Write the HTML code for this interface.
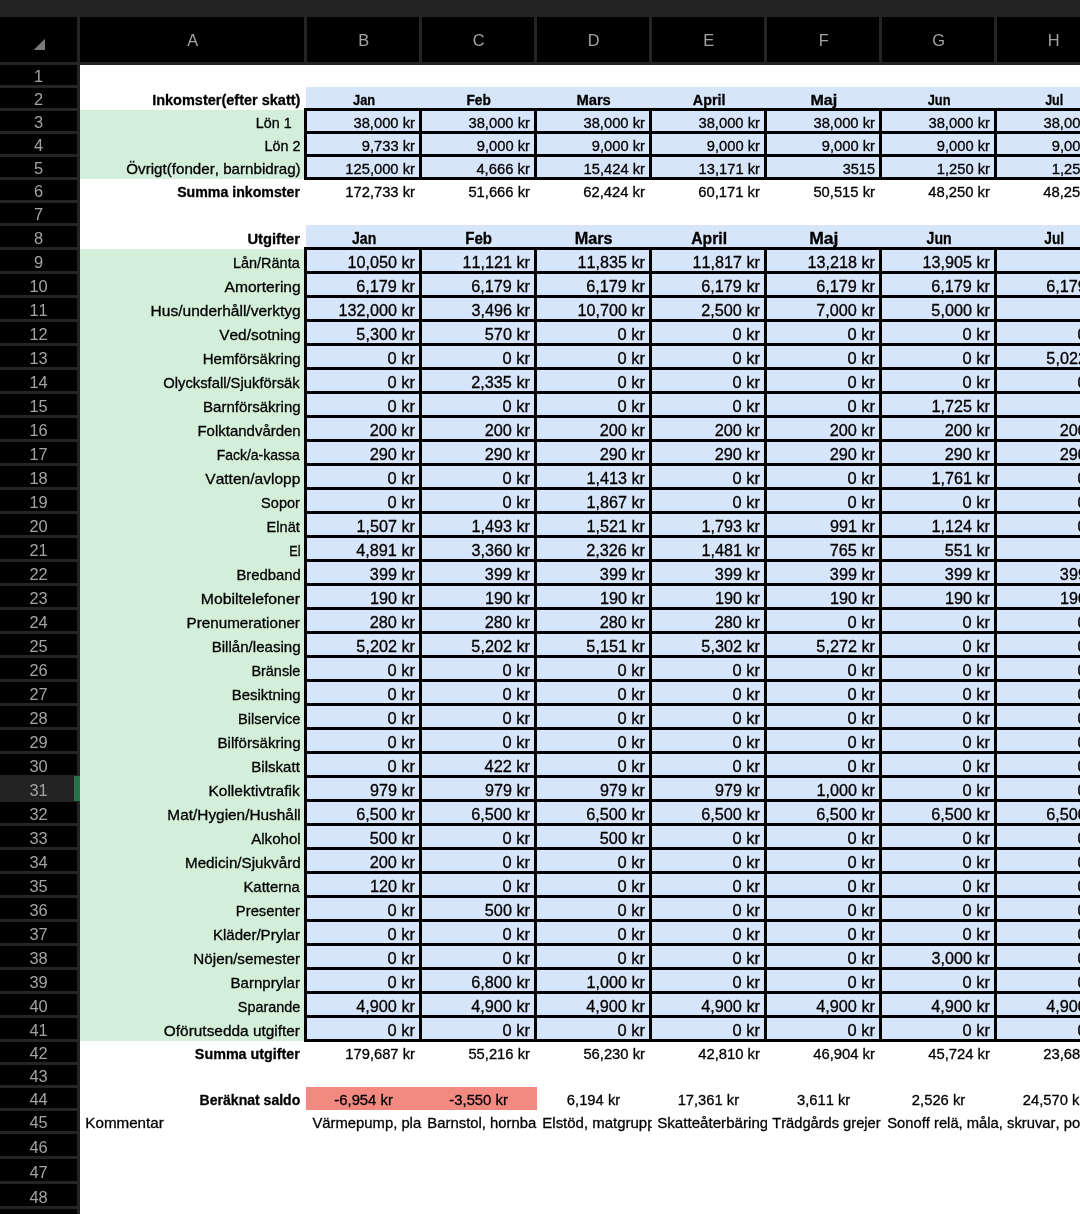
<!DOCTYPE html>
<html><head><meta charset="utf-8"><title>Budget</title>
<style>
html,body{margin:0;padding:0;width:1080px;height:1214px;overflow:hidden;background:#fff}
svg{display:block;will-change:transform}
text{font-family:"Liberation Sans",Arial,sans-serif;font-kerning:none;white-space:pre;stroke:#000;stroke-width:0.3px;paint-order:stroke}
text.h{stroke:none}
text.h{font-family:"Liberation Sans",Arial,sans-serif}
</style></head><body>
<svg width="1080" height="1214" viewBox="0 0 1080 1214"><defs><clipPath id="c1"><rect x="305.40" y="1109.40" width="116.50" height="23.00"/></clipPath><clipPath id="c2"><rect x="420.40" y="1109.40" width="116.50" height="23.00"/></clipPath><clipPath id="c3"><rect x="535.40" y="1109.40" width="116.50" height="23.00"/></clipPath><clipPath id="c4"><rect x="650.40" y="1109.40" width="116.50" height="23.00"/></clipPath><clipPath id="c5"><rect x="765.40" y="1109.40" width="116.50" height="23.00"/></clipPath><clipPath id="c6"><rect x="880.40" y="1109.40" width="199.60" height="23.00"/></clipPath></defs><rect x="0.00" y="0.00" width="1080.00" height="1214.00" fill="#ffffff"/>
<rect x="80.00" y="110.00" width="224.00" height="69.00" fill="#d3efd9"/>
<rect x="80.00" y="249.00" width="224.00" height="792.00" fill="#d3efd9"/>
<rect x="306.00" y="87.00" width="774.00" height="23.00" fill="#d7e5fa"/>
<rect x="306.00" y="225.00" width="774.00" height="24.00" fill="#d7e5fa"/>
<rect x="305.00" y="110.00" width="775.00" height="69.00" fill="#d7e5fa"/>
<rect x="305.00" y="249.00" width="775.00" height="792.00" fill="#d7e5fa"/>
<rect x="306.00" y="1087.00" width="231.00" height="23.00" fill="#f28a82"/>
<rect x="304.00" y="108.00" width="1080.00" height="3.00" fill="#000000"/>
<rect x="304.00" y="131.00" width="1080.00" height="3.00" fill="#000000"/>
<rect x="304.00" y="154.00" width="1080.00" height="3.00" fill="#000000"/>
<rect x="304.00" y="177.00" width="1080.00" height="3.00" fill="#000000"/>
<rect x="304.00" y="108.00" width="3.00" height="72.00" fill="#000000"/>
<rect x="419.00" y="108.00" width="3.00" height="72.00" fill="#000000"/>
<rect x="534.00" y="108.00" width="3.00" height="72.00" fill="#000000"/>
<rect x="649.00" y="108.00" width="3.00" height="72.00" fill="#000000"/>
<rect x="764.00" y="108.00" width="3.00" height="72.00" fill="#000000"/>
<rect x="879.00" y="108.00" width="3.00" height="72.00" fill="#000000"/>
<rect x="994.00" y="108.00" width="3.00" height="72.00" fill="#000000"/>
<rect x="1109.00" y="108.00" width="3.00" height="72.00" fill="#000000"/>
<rect x="304.00" y="247.00" width="1080.00" height="3.00" fill="#000000"/>
<rect x="304.00" y="271.00" width="1080.00" height="3.00" fill="#000000"/>
<rect x="304.00" y="295.00" width="1080.00" height="3.00" fill="#000000"/>
<rect x="304.00" y="319.00" width="1080.00" height="3.00" fill="#000000"/>
<rect x="304.00" y="343.00" width="1080.00" height="3.00" fill="#000000"/>
<rect x="304.00" y="367.00" width="1080.00" height="3.00" fill="#000000"/>
<rect x="304.00" y="391.00" width="1080.00" height="3.00" fill="#000000"/>
<rect x="304.00" y="415.00" width="1080.00" height="3.00" fill="#000000"/>
<rect x="304.00" y="439.00" width="1080.00" height="3.00" fill="#000000"/>
<rect x="304.00" y="463.00" width="1080.00" height="3.00" fill="#000000"/>
<rect x="304.00" y="487.00" width="1080.00" height="3.00" fill="#000000"/>
<rect x="304.00" y="511.00" width="1080.00" height="3.00" fill="#000000"/>
<rect x="304.00" y="535.00" width="1080.00" height="3.00" fill="#000000"/>
<rect x="304.00" y="559.00" width="1080.00" height="3.00" fill="#000000"/>
<rect x="304.00" y="583.00" width="1080.00" height="3.00" fill="#000000"/>
<rect x="304.00" y="607.00" width="1080.00" height="3.00" fill="#000000"/>
<rect x="304.00" y="631.00" width="1080.00" height="3.00" fill="#000000"/>
<rect x="304.00" y="655.00" width="1080.00" height="3.00" fill="#000000"/>
<rect x="304.00" y="679.00" width="1080.00" height="3.00" fill="#000000"/>
<rect x="304.00" y="703.00" width="1080.00" height="3.00" fill="#000000"/>
<rect x="304.00" y="727.00" width="1080.00" height="3.00" fill="#000000"/>
<rect x="304.00" y="751.00" width="1080.00" height="3.00" fill="#000000"/>
<rect x="304.00" y="775.00" width="1080.00" height="3.00" fill="#000000"/>
<rect x="304.00" y="799.00" width="1080.00" height="3.00" fill="#000000"/>
<rect x="304.00" y="823.00" width="1080.00" height="3.00" fill="#000000"/>
<rect x="304.00" y="847.00" width="1080.00" height="3.00" fill="#000000"/>
<rect x="304.00" y="871.00" width="1080.00" height="3.00" fill="#000000"/>
<rect x="304.00" y="895.00" width="1080.00" height="3.00" fill="#000000"/>
<rect x="304.00" y="919.00" width="1080.00" height="3.00" fill="#000000"/>
<rect x="304.00" y="943.00" width="1080.00" height="3.00" fill="#000000"/>
<rect x="304.00" y="967.00" width="1080.00" height="3.00" fill="#000000"/>
<rect x="304.00" y="991.00" width="1080.00" height="3.00" fill="#000000"/>
<rect x="304.00" y="1015.00" width="1080.00" height="3.00" fill="#000000"/>
<rect x="304.00" y="1039.00" width="1080.00" height="3.00" fill="#000000"/>
<rect x="304.00" y="247.00" width="3.00" height="795.00" fill="#000000"/>
<rect x="419.00" y="247.00" width="3.00" height="795.00" fill="#000000"/>
<rect x="534.00" y="247.00" width="3.00" height="795.00" fill="#000000"/>
<rect x="649.00" y="247.00" width="3.00" height="795.00" fill="#000000"/>
<rect x="764.00" y="247.00" width="3.00" height="795.00" fill="#000000"/>
<rect x="879.00" y="247.00" width="3.00" height="795.00" fill="#000000"/>
<rect x="994.00" y="247.00" width="3.00" height="795.00" fill="#000000"/>
<rect x="1109.00" y="247.00" width="3.00" height="795.00" fill="#000000"/>
<rect x="0.00" y="0.00" width="1080.00" height="17.00" fill="#232323"/>
<rect x="0.00" y="17.00" width="1080.00" height="45.00" fill="#000000"/>
<rect x="0.00" y="62.00" width="1080.00" height="3.00" fill="#242424"/>
<rect x="0.00" y="65.00" width="77.00" height="1149.00" fill="#000000"/>
<rect x="77.00" y="17.00" width="3.00" height="1197.00" fill="#242424"/>
<rect x="304.00" y="17.00" width="3.00" height="45.00" fill="#242424"/>
<rect x="419.00" y="17.00" width="3.00" height="45.00" fill="#242424"/>
<rect x="534.00" y="17.00" width="3.00" height="45.00" fill="#242424"/>
<rect x="649.00" y="17.00" width="3.00" height="45.00" fill="#242424"/>
<rect x="764.00" y="17.00" width="3.00" height="45.00" fill="#242424"/>
<rect x="879.00" y="17.00" width="3.00" height="45.00" fill="#242424"/>
<rect x="994.00" y="17.00" width="3.00" height="45.00" fill="#242424"/>
<rect x="1109.00" y="17.00" width="3.00" height="45.00" fill="#242424"/>
<rect x="0.00" y="85.00" width="77.00" height="3.00" fill="#242424"/>
<rect x="0.00" y="108.00" width="77.00" height="3.00" fill="#242424"/>
<rect x="0.00" y="131.00" width="77.00" height="3.00" fill="#242424"/>
<rect x="0.00" y="154.00" width="77.00" height="3.00" fill="#242424"/>
<rect x="0.00" y="177.00" width="77.00" height="3.00" fill="#242424"/>
<rect x="0.00" y="200.00" width="77.00" height="3.00" fill="#242424"/>
<rect x="0.00" y="223.00" width="77.00" height="3.00" fill="#242424"/>
<rect x="0.00" y="247.00" width="77.00" height="3.00" fill="#242424"/>
<rect x="0.00" y="271.00" width="77.00" height="3.00" fill="#242424"/>
<rect x="0.00" y="295.00" width="77.00" height="3.00" fill="#242424"/>
<rect x="0.00" y="319.00" width="77.00" height="3.00" fill="#242424"/>
<rect x="0.00" y="343.00" width="77.00" height="3.00" fill="#242424"/>
<rect x="0.00" y="367.00" width="77.00" height="3.00" fill="#242424"/>
<rect x="0.00" y="391.00" width="77.00" height="3.00" fill="#242424"/>
<rect x="0.00" y="415.00" width="77.00" height="3.00" fill="#242424"/>
<rect x="0.00" y="439.00" width="77.00" height="3.00" fill="#242424"/>
<rect x="0.00" y="463.00" width="77.00" height="3.00" fill="#242424"/>
<rect x="0.00" y="487.00" width="77.00" height="3.00" fill="#242424"/>
<rect x="0.00" y="511.00" width="77.00" height="3.00" fill="#242424"/>
<rect x="0.00" y="535.00" width="77.00" height="3.00" fill="#242424"/>
<rect x="0.00" y="559.00" width="77.00" height="3.00" fill="#242424"/>
<rect x="0.00" y="583.00" width="77.00" height="3.00" fill="#242424"/>
<rect x="0.00" y="607.00" width="77.00" height="3.00" fill="#242424"/>
<rect x="0.00" y="631.00" width="77.00" height="3.00" fill="#242424"/>
<rect x="0.00" y="655.00" width="77.00" height="3.00" fill="#242424"/>
<rect x="0.00" y="679.00" width="77.00" height="3.00" fill="#242424"/>
<rect x="0.00" y="703.00" width="77.00" height="3.00" fill="#242424"/>
<rect x="0.00" y="727.00" width="77.00" height="3.00" fill="#242424"/>
<rect x="0.00" y="751.00" width="77.00" height="3.00" fill="#242424"/>
<rect x="0.00" y="775.00" width="77.00" height="3.00" fill="#242424"/>
<rect x="0.00" y="799.00" width="77.00" height="3.00" fill="#242424"/>
<rect x="0.00" y="823.00" width="77.00" height="3.00" fill="#242424"/>
<rect x="0.00" y="847.00" width="77.00" height="3.00" fill="#242424"/>
<rect x="0.00" y="871.00" width="77.00" height="3.00" fill="#242424"/>
<rect x="0.00" y="895.00" width="77.00" height="3.00" fill="#242424"/>
<rect x="0.00" y="919.00" width="77.00" height="3.00" fill="#242424"/>
<rect x="0.00" y="943.00" width="77.00" height="3.00" fill="#242424"/>
<rect x="0.00" y="967.00" width="77.00" height="3.00" fill="#242424"/>
<rect x="0.00" y="991.00" width="77.00" height="3.00" fill="#242424"/>
<rect x="0.00" y="1015.00" width="77.00" height="3.00" fill="#242424"/>
<rect x="0.00" y="1039.00" width="77.00" height="3.00" fill="#242424"/>
<rect x="0.00" y="1062.00" width="77.00" height="3.00" fill="#242424"/>
<rect x="0.00" y="1085.00" width="77.00" height="3.00" fill="#242424"/>
<rect x="0.00" y="1108.00" width="77.00" height="3.00" fill="#242424"/>
<rect x="0.00" y="1131.00" width="77.00" height="3.00" fill="#242424"/>
<rect x="0.00" y="1156.00" width="77.00" height="3.00" fill="#242424"/>
<rect x="0.00" y="1181.00" width="77.00" height="3.00" fill="#242424"/>
<rect x="0.00" y="1206.00" width="77.00" height="3.00" fill="#242424"/>
<rect x="0.00" y="1231.00" width="77.00" height="3.00" fill="#242424"/>
<rect x="0.00" y="775.00" width="77.00" height="27.00" fill="#232323"/>
<rect x="74.00" y="776.00" width="6.00" height="25.00" fill="#25744a"/>
<polygon points="33.6,49.9 45,38.75 45,49.9" fill="#7a7a7a"/>
<text x="192.70" y="45.80" font-size="16.4" fill="#a3a3a3" text-anchor="middle" class="h">A</text>
<text x="363.70" y="45.80" font-size="16.4" fill="#a3a3a3" text-anchor="middle" class="h">B</text>
<text x="478.70" y="45.80" font-size="16.4" fill="#a3a3a3" text-anchor="middle" class="h">C</text>
<text x="593.70" y="45.80" font-size="16.4" fill="#a3a3a3" text-anchor="middle" class="h">D</text>
<text x="708.70" y="45.80" font-size="16.4" fill="#a3a3a3" text-anchor="middle" class="h">E</text>
<text x="823.70" y="45.80" font-size="16.4" fill="#a3a3a3" text-anchor="middle" class="h">F</text>
<text x="938.70" y="45.80" font-size="16.4" fill="#a3a3a3" text-anchor="middle" class="h">G</text>
<text x="1053.70" y="45.80" font-size="16.4" fill="#a3a3a3" text-anchor="middle" class="h">H</text>
<text x="38.60" y="81.73" font-size="16.4" fill="#a3a3a3" text-anchor="middle" class="h">1</text>
<text x="38.60" y="104.76" font-size="16.4" fill="#a3a3a3" text-anchor="middle" class="h">2</text>
<text x="38.60" y="127.79" font-size="16.4" fill="#a3a3a3" text-anchor="middle" class="h">3</text>
<text x="38.60" y="150.82" font-size="16.4" fill="#a3a3a3" text-anchor="middle" class="h">4</text>
<text x="38.60" y="173.85" font-size="16.4" fill="#a3a3a3" text-anchor="middle" class="h">5</text>
<text x="38.60" y="196.88" font-size="16.4" fill="#a3a3a3" text-anchor="middle" class="h">6</text>
<text x="38.60" y="219.91" font-size="16.4" fill="#a3a3a3" text-anchor="middle" class="h">7</text>
<text x="38.60" y="243.90" font-size="16.4" fill="#a3a3a3" text-anchor="middle" class="h">8</text>
<text x="38.60" y="267.90" font-size="16.4" fill="#a3a3a3" text-anchor="middle" class="h">9</text>
<text x="38.60" y="291.90" font-size="16.4" fill="#a3a3a3" text-anchor="middle" class="h">10</text>
<text x="38.60" y="315.90" font-size="16.4" fill="#a3a3a3" text-anchor="middle" class="h">11</text>
<text x="38.60" y="339.90" font-size="16.4" fill="#a3a3a3" text-anchor="middle" class="h">12</text>
<text x="38.60" y="363.90" font-size="16.4" fill="#a3a3a3" text-anchor="middle" class="h">13</text>
<text x="38.60" y="387.90" font-size="16.4" fill="#a3a3a3" text-anchor="middle" class="h">14</text>
<text x="38.60" y="411.90" font-size="16.4" fill="#a3a3a3" text-anchor="middle" class="h">15</text>
<text x="38.60" y="435.90" font-size="16.4" fill="#a3a3a3" text-anchor="middle" class="h">16</text>
<text x="38.60" y="459.90" font-size="16.4" fill="#a3a3a3" text-anchor="middle" class="h">17</text>
<text x="38.60" y="483.90" font-size="16.4" fill="#a3a3a3" text-anchor="middle" class="h">18</text>
<text x="38.60" y="507.90" font-size="16.4" fill="#a3a3a3" text-anchor="middle" class="h">19</text>
<text x="38.60" y="531.90" font-size="16.4" fill="#a3a3a3" text-anchor="middle" class="h">20</text>
<text x="38.60" y="555.90" font-size="16.4" fill="#a3a3a3" text-anchor="middle" class="h">21</text>
<text x="38.60" y="579.90" font-size="16.4" fill="#a3a3a3" text-anchor="middle" class="h">22</text>
<text x="38.60" y="603.90" font-size="16.4" fill="#a3a3a3" text-anchor="middle" class="h">23</text>
<text x="38.60" y="627.90" font-size="16.4" fill="#a3a3a3" text-anchor="middle" class="h">24</text>
<text x="38.60" y="651.90" font-size="16.4" fill="#a3a3a3" text-anchor="middle" class="h">25</text>
<text x="38.60" y="675.90" font-size="16.4" fill="#a3a3a3" text-anchor="middle" class="h">26</text>
<text x="38.60" y="699.90" font-size="16.4" fill="#a3a3a3" text-anchor="middle" class="h">27</text>
<text x="38.60" y="723.90" font-size="16.4" fill="#a3a3a3" text-anchor="middle" class="h">28</text>
<text x="38.60" y="747.90" font-size="16.4" fill="#a3a3a3" text-anchor="middle" class="h">29</text>
<text x="38.60" y="771.90" font-size="16.4" fill="#a3a3a3" text-anchor="middle" class="h">30</text>
<text x="38.60" y="795.90" font-size="16.4" fill="#a3a3a3" text-anchor="middle" class="h">31</text>
<text x="38.60" y="819.90" font-size="16.4" fill="#a3a3a3" text-anchor="middle" class="h">32</text>
<text x="38.60" y="843.90" font-size="16.4" fill="#a3a3a3" text-anchor="middle" class="h">33</text>
<text x="38.60" y="867.90" font-size="16.4" fill="#a3a3a3" text-anchor="middle" class="h">34</text>
<text x="38.60" y="891.90" font-size="16.4" fill="#a3a3a3" text-anchor="middle" class="h">35</text>
<text x="38.60" y="915.90" font-size="16.4" fill="#a3a3a3" text-anchor="middle" class="h">36</text>
<text x="38.60" y="939.90" font-size="16.4" fill="#a3a3a3" text-anchor="middle" class="h">37</text>
<text x="38.60" y="963.90" font-size="16.4" fill="#a3a3a3" text-anchor="middle" class="h">38</text>
<text x="38.60" y="987.90" font-size="16.4" fill="#a3a3a3" text-anchor="middle" class="h">39</text>
<text x="38.60" y="1011.90" font-size="16.4" fill="#a3a3a3" text-anchor="middle" class="h">40</text>
<text x="38.60" y="1035.90" font-size="16.4" fill="#a3a3a3" text-anchor="middle" class="h">41</text>
<text x="38.60" y="1058.90" font-size="16.4" fill="#a3a3a3" text-anchor="middle" class="h">42</text>
<text x="38.60" y="1081.90" font-size="16.4" fill="#a3a3a3" text-anchor="middle" class="h">43</text>
<text x="38.60" y="1104.90" font-size="16.4" fill="#a3a3a3" text-anchor="middle" class="h">44</text>
<text x="38.60" y="1127.90" font-size="16.4" fill="#a3a3a3" text-anchor="middle" class="h">45</text>
<text x="38.60" y="1152.90" font-size="16.4" fill="#a3a3a3" text-anchor="middle" class="h">46</text>
<text x="38.60" y="1177.90" font-size="16.4" fill="#a3a3a3" text-anchor="middle" class="h">47</text>
<text x="38.60" y="1202.90" font-size="16.4" fill="#a3a3a3" text-anchor="middle" class="h">48</text>
<text x="38.60" y="1227.90" font-size="16.4" fill="#a3a3a3" text-anchor="middle" class="h">49</text>
<text x="152.13" y="104.76" font-size="15.11" font-weight="bold" fill="#000000" textLength="148.29" lengthAdjust="spacingAndGlyphs">Inkomster(efter skatt)</text>
<text x="353.06" y="104.76" font-size="15.11" font-weight="bold" fill="#000000" textLength="22.09" lengthAdjust="spacingAndGlyphs">Jan</text>
<text x="466.42" y="104.76" font-size="15.11" font-weight="bold" fill="#000000" textLength="24.40" lengthAdjust="spacingAndGlyphs">Feb</text>
<text x="576.38" y="104.76" font-size="15.11" font-weight="bold" fill="#000000" textLength="34.46" lengthAdjust="spacingAndGlyphs">Mars</text>
<text x="692.84" y="104.76" font-size="15.11" font-weight="bold" fill="#000000" textLength="32.58" lengthAdjust="spacingAndGlyphs">April</text>
<text x="810.52" y="104.76" font-size="15.11" font-weight="bold" fill="#000000" textLength="26.61" lengthAdjust="spacingAndGlyphs">Maj</text>
<text x="927.71" y="104.76" font-size="15.11" font-weight="bold" fill="#000000" textLength="22.78" lengthAdjust="spacingAndGlyphs">Jun</text>
<text x="1045.14" y="104.76" font-size="15.11" font-weight="bold" fill="#000000" textLength="18.02" lengthAdjust="spacingAndGlyphs">Jul</text>
<text x="255.81" y="127.79" font-size="15.11" fill="#000000" textLength="35.79" lengthAdjust="spacingAndGlyphs">Lön 1</text>
<text x="353.44" y="127.79" font-size="15.11" fill="#000000" textLength="61.51" lengthAdjust="spacingAndGlyphs">38,000 kr</text>
<text x="468.44" y="127.79" font-size="15.11" fill="#000000" textLength="61.51" lengthAdjust="spacingAndGlyphs">38,000 kr</text>
<text x="583.44" y="127.79" font-size="15.11" fill="#000000" textLength="61.51" lengthAdjust="spacingAndGlyphs">38,000 kr</text>
<text x="698.44" y="127.79" font-size="15.11" fill="#000000" textLength="61.51" lengthAdjust="spacingAndGlyphs">38,000 kr</text>
<text x="813.44" y="127.79" font-size="15.11" fill="#000000" textLength="61.51" lengthAdjust="spacingAndGlyphs">38,000 kr</text>
<text x="928.44" y="127.79" font-size="15.11" fill="#000000" textLength="61.51" lengthAdjust="spacingAndGlyphs">38,000 kr</text>
<text x="1043.44" y="127.79" font-size="15.11" fill="#000000" textLength="61.51" lengthAdjust="spacingAndGlyphs">38,000 kr</text>
<text x="264.57" y="150.82" font-size="15.11" fill="#000000" textLength="35.85" lengthAdjust="spacingAndGlyphs">Lön 2</text>
<text x="361.80" y="150.82" font-size="15.11" fill="#000000" textLength="53.14" lengthAdjust="spacingAndGlyphs">9,733 kr</text>
<text x="476.80" y="150.82" font-size="15.11" fill="#000000" textLength="53.14" lengthAdjust="spacingAndGlyphs">9,000 kr</text>
<text x="591.80" y="150.82" font-size="15.11" fill="#000000" textLength="53.14" lengthAdjust="spacingAndGlyphs">9,000 kr</text>
<text x="706.80" y="150.82" font-size="15.11" fill="#000000" textLength="53.14" lengthAdjust="spacingAndGlyphs">9,000 kr</text>
<text x="821.80" y="150.82" font-size="15.11" fill="#000000" textLength="53.14" lengthAdjust="spacingAndGlyphs">9,000 kr</text>
<text x="936.80" y="150.82" font-size="15.11" fill="#000000" textLength="53.14" lengthAdjust="spacingAndGlyphs">9,000 kr</text>
<text x="1051.80" y="150.82" font-size="15.11" fill="#000000" textLength="53.14" lengthAdjust="spacingAndGlyphs">9,000 kr</text>
<text x="126.33" y="173.85" font-size="15.11" fill="#000000" textLength="174.31" lengthAdjust="spacingAndGlyphs">Övrigt(fonder, barnbidrag)</text>
<text x="345.31" y="173.85" font-size="15.11" fill="#000000" textLength="69.63" lengthAdjust="spacingAndGlyphs">125,000 kr</text>
<text x="476.39" y="173.85" font-size="15.11" fill="#000000" textLength="53.55" lengthAdjust="spacingAndGlyphs">4,666 kr</text>
<text x="583.52" y="173.85" font-size="15.11" fill="#000000" textLength="61.42" lengthAdjust="spacingAndGlyphs">15,424 kr</text>
<text x="698.52" y="173.85" font-size="15.11" fill="#000000" textLength="61.42" lengthAdjust="spacingAndGlyphs">13,171 kr</text>
<text x="842.71" y="173.85" font-size="15.11" fill="#000000" textLength="32.30" lengthAdjust="spacingAndGlyphs">3515</text>
<text x="936.74" y="173.85" font-size="15.11" fill="#000000" textLength="53.21" lengthAdjust="spacingAndGlyphs">1,250 kr</text>
<text x="1051.74" y="173.85" font-size="15.11" fill="#000000" textLength="53.21" lengthAdjust="spacingAndGlyphs">1,250 kr</text>
<text x="177.14" y="196.88" font-size="15.11" font-weight="bold" fill="#000000" textLength="122.78" lengthAdjust="spacingAndGlyphs">Summa inkomster</text>
<text x="345.31" y="196.88" font-size="15.11" fill="#000000" textLength="69.63" lengthAdjust="spacingAndGlyphs">172,733 kr</text>
<text x="468.39" y="196.88" font-size="15.11" fill="#000000" textLength="61.55" lengthAdjust="spacingAndGlyphs">51,666 kr</text>
<text x="583.22" y="196.88" font-size="15.11" fill="#000000" textLength="61.72" lengthAdjust="spacingAndGlyphs">62,424 kr</text>
<text x="698.22" y="196.88" font-size="15.11" fill="#000000" textLength="61.72" lengthAdjust="spacingAndGlyphs">60,171 kr</text>
<text x="813.39" y="196.88" font-size="15.11" fill="#000000" textLength="61.55" lengthAdjust="spacingAndGlyphs">50,515 kr</text>
<text x="928.18" y="196.88" font-size="15.11" fill="#000000" textLength="61.76" lengthAdjust="spacingAndGlyphs">48,250 kr</text>
<text x="1043.18" y="196.88" font-size="15.11" fill="#000000" textLength="61.76" lengthAdjust="spacingAndGlyphs">48,250 kr</text>
<text x="247.43" y="243.90" font-size="15.11" font-weight="bold" fill="#000000" textLength="52.49" lengthAdjust="spacingAndGlyphs">Utgifter</text>
<text x="352.00" y="243.90" font-size="16.60" font-weight="bold" fill="#000000" textLength="24.27" lengthAdjust="spacingAndGlyphs">Jan</text>
<text x="465.20" y="243.90" font-size="16.60" font-weight="bold" fill="#000000" textLength="26.82" lengthAdjust="spacingAndGlyphs">Feb</text>
<text x="574.66" y="243.90" font-size="16.60" font-weight="bold" fill="#000000" textLength="37.86" lengthAdjust="spacingAndGlyphs">Mars</text>
<text x="691.26" y="243.90" font-size="16.60" font-weight="bold" fill="#000000" textLength="35.80" lengthAdjust="spacingAndGlyphs">April</text>
<text x="809.21" y="243.90" font-size="16.60" font-weight="bold" fill="#000000" textLength="29.24" lengthAdjust="spacingAndGlyphs">Maj</text>
<text x="926.61" y="243.90" font-size="16.60" font-weight="bold" fill="#000000" textLength="25.03" lengthAdjust="spacingAndGlyphs">Jun</text>
<text x="1044.28" y="243.90" font-size="16.60" font-weight="bold" fill="#000000" textLength="19.79" lengthAdjust="spacingAndGlyphs">Jul</text>
<text x="233.01" y="267.90" font-size="15.11" fill="#000000" textLength="66.69" lengthAdjust="spacingAndGlyphs">Lån/Ränta</text>
<text x="347.48" y="267.90" font-size="16.60" fill="#000000" textLength="67.49" lengthAdjust="spacingAndGlyphs">10,050 kr</text>
<text x="462.48" y="267.90" font-size="16.60" fill="#000000" textLength="67.49" lengthAdjust="spacingAndGlyphs">11,121 kr</text>
<text x="577.48" y="267.90" font-size="16.60" fill="#000000" textLength="67.49" lengthAdjust="spacingAndGlyphs">11,835 kr</text>
<text x="692.48" y="267.90" font-size="16.60" fill="#000000" textLength="67.49" lengthAdjust="spacingAndGlyphs">11,817 kr</text>
<text x="807.48" y="267.90" font-size="16.60" fill="#000000" textLength="67.49" lengthAdjust="spacingAndGlyphs">13,218 kr</text>
<text x="922.48" y="267.90" font-size="16.60" fill="#000000" textLength="67.49" lengthAdjust="spacingAndGlyphs">13,905 kr</text>
<text x="224.52" y="291.90" font-size="15.11" fill="#000000" textLength="76.18" lengthAdjust="spacingAndGlyphs">Amortering</text>
<text x="356.17" y="291.90" font-size="16.60" fill="#000000" textLength="58.80" lengthAdjust="spacingAndGlyphs">6,179 kr</text>
<text x="471.17" y="291.90" font-size="16.60" fill="#000000" textLength="58.80" lengthAdjust="spacingAndGlyphs">6,179 kr</text>
<text x="586.17" y="291.90" font-size="16.60" fill="#000000" textLength="58.80" lengthAdjust="spacingAndGlyphs">6,179 kr</text>
<text x="701.17" y="291.90" font-size="16.60" fill="#000000" textLength="58.80" lengthAdjust="spacingAndGlyphs">6,179 kr</text>
<text x="816.17" y="291.90" font-size="16.60" fill="#000000" textLength="58.80" lengthAdjust="spacingAndGlyphs">6,179 kr</text>
<text x="931.17" y="291.90" font-size="16.60" fill="#000000" textLength="58.80" lengthAdjust="spacingAndGlyphs">6,179 kr</text>
<text x="1046.17" y="291.90" font-size="16.60" fill="#000000" textLength="58.80" lengthAdjust="spacingAndGlyphs">6,179 kr</text>
<text x="150.64" y="315.90" font-size="15.11" fill="#000000" textLength="150.06" lengthAdjust="spacingAndGlyphs">Hus/underhåll/verktyg</text>
<text x="338.46" y="315.90" font-size="16.60" fill="#000000" textLength="76.51" lengthAdjust="spacingAndGlyphs">132,000 kr</text>
<text x="471.41" y="315.90" font-size="16.60" fill="#000000" textLength="58.56" lengthAdjust="spacingAndGlyphs">3,496 kr</text>
<text x="577.48" y="315.90" font-size="16.60" fill="#000000" textLength="67.49" lengthAdjust="spacingAndGlyphs">10,700 kr</text>
<text x="701.18" y="315.90" font-size="16.60" fill="#000000" textLength="58.79" lengthAdjust="spacingAndGlyphs">2,500 kr</text>
<text x="816.22" y="315.90" font-size="16.60" fill="#000000" textLength="58.75" lengthAdjust="spacingAndGlyphs">7,000 kr</text>
<text x="931.36" y="315.90" font-size="16.60" fill="#000000" textLength="58.61" lengthAdjust="spacingAndGlyphs">5,000 kr</text>
<text x="219.27" y="339.90" font-size="15.11" fill="#000000" textLength="81.42" lengthAdjust="spacingAndGlyphs">Ved/sotning</text>
<text x="356.36" y="339.90" font-size="16.60" fill="#000000" textLength="58.61" lengthAdjust="spacingAndGlyphs">5,300 kr</text>
<text x="484.82" y="339.90" font-size="16.60" fill="#000000" textLength="45.15" lengthAdjust="spacingAndGlyphs">570 kr</text>
<text x="617.52" y="339.90" font-size="16.60" fill="#000000" textLength="27.45" lengthAdjust="spacingAndGlyphs">0 kr</text>
<text x="732.52" y="339.90" font-size="16.60" fill="#000000" textLength="27.45" lengthAdjust="spacingAndGlyphs">0 kr</text>
<text x="847.52" y="339.90" font-size="16.60" fill="#000000" textLength="27.45" lengthAdjust="spacingAndGlyphs">0 kr</text>
<text x="962.52" y="339.90" font-size="16.60" fill="#000000" textLength="27.45" lengthAdjust="spacingAndGlyphs">0 kr</text>
<text x="1077.52" y="339.90" font-size="16.60" fill="#000000" textLength="27.45" lengthAdjust="spacingAndGlyphs">0 kr</text>
<text x="202.66" y="363.90" font-size="15.11" fill="#000000" textLength="98.01" lengthAdjust="spacingAndGlyphs">Hemförsäkring</text>
<text x="387.52" y="363.90" font-size="16.60" fill="#000000" textLength="27.45" lengthAdjust="spacingAndGlyphs">0 kr</text>
<text x="502.52" y="363.90" font-size="16.60" fill="#000000" textLength="27.45" lengthAdjust="spacingAndGlyphs">0 kr</text>
<text x="617.52" y="363.90" font-size="16.60" fill="#000000" textLength="27.45" lengthAdjust="spacingAndGlyphs">0 kr</text>
<text x="732.52" y="363.90" font-size="16.60" fill="#000000" textLength="27.45" lengthAdjust="spacingAndGlyphs">0 kr</text>
<text x="847.52" y="363.90" font-size="16.60" fill="#000000" textLength="27.45" lengthAdjust="spacingAndGlyphs">0 kr</text>
<text x="962.52" y="363.90" font-size="16.60" fill="#000000" textLength="27.45" lengthAdjust="spacingAndGlyphs">0 kr</text>
<text x="1046.36" y="363.90" font-size="16.60" fill="#000000" textLength="58.61" lengthAdjust="spacingAndGlyphs">5,022 kr</text>
<text x="163.25" y="387.90" font-size="15.11" fill="#000000" textLength="136.42" lengthAdjust="spacingAndGlyphs">Olycksfall/Sjukförsäk</text>
<text x="387.52" y="387.90" font-size="16.60" fill="#000000" textLength="27.45" lengthAdjust="spacingAndGlyphs">0 kr</text>
<text x="471.18" y="387.90" font-size="16.60" fill="#000000" textLength="58.79" lengthAdjust="spacingAndGlyphs">2,335 kr</text>
<text x="617.52" y="387.90" font-size="16.60" fill="#000000" textLength="27.45" lengthAdjust="spacingAndGlyphs">0 kr</text>
<text x="732.52" y="387.90" font-size="16.60" fill="#000000" textLength="27.45" lengthAdjust="spacingAndGlyphs">0 kr</text>
<text x="847.52" y="387.90" font-size="16.60" fill="#000000" textLength="27.45" lengthAdjust="spacingAndGlyphs">0 kr</text>
<text x="962.52" y="387.90" font-size="16.60" fill="#000000" textLength="27.45" lengthAdjust="spacingAndGlyphs">0 kr</text>
<text x="1077.52" y="387.90" font-size="16.60" fill="#000000" textLength="27.45" lengthAdjust="spacingAndGlyphs">0 kr</text>
<text x="203.06" y="411.90" font-size="15.11" fill="#000000" textLength="97.60" lengthAdjust="spacingAndGlyphs">Barnförsäkring</text>
<text x="387.52" y="411.90" font-size="16.60" fill="#000000" textLength="27.45" lengthAdjust="spacingAndGlyphs">0 kr</text>
<text x="502.52" y="411.90" font-size="16.60" fill="#000000" textLength="27.45" lengthAdjust="spacingAndGlyphs">0 kr</text>
<text x="617.52" y="411.90" font-size="16.60" fill="#000000" textLength="27.45" lengthAdjust="spacingAndGlyphs">0 kr</text>
<text x="732.52" y="411.90" font-size="16.60" fill="#000000" textLength="27.45" lengthAdjust="spacingAndGlyphs">0 kr</text>
<text x="847.52" y="411.90" font-size="16.60" fill="#000000" textLength="27.45" lengthAdjust="spacingAndGlyphs">0 kr</text>
<text x="931.50" y="411.90" font-size="16.60" fill="#000000" textLength="58.46" lengthAdjust="spacingAndGlyphs">1,725 kr</text>
<text x="197.47" y="435.90" font-size="15.11" fill="#000000" textLength="103.21" lengthAdjust="spacingAndGlyphs">Folktandvården</text>
<text x="369.64" y="435.90" font-size="16.60" fill="#000000" textLength="45.33" lengthAdjust="spacingAndGlyphs">200 kr</text>
<text x="484.64" y="435.90" font-size="16.60" fill="#000000" textLength="45.33" lengthAdjust="spacingAndGlyphs">200 kr</text>
<text x="599.64" y="435.90" font-size="16.60" fill="#000000" textLength="45.33" lengthAdjust="spacingAndGlyphs">200 kr</text>
<text x="714.64" y="435.90" font-size="16.60" fill="#000000" textLength="45.33" lengthAdjust="spacingAndGlyphs">200 kr</text>
<text x="829.64" y="435.90" font-size="16.60" fill="#000000" textLength="45.33" lengthAdjust="spacingAndGlyphs">200 kr</text>
<text x="944.64" y="435.90" font-size="16.60" fill="#000000" textLength="45.33" lengthAdjust="spacingAndGlyphs">200 kr</text>
<text x="1059.64" y="435.90" font-size="16.60" fill="#000000" textLength="45.33" lengthAdjust="spacingAndGlyphs">200 kr</text>
<text x="216.69" y="459.90" font-size="15.11" fill="#000000" textLength="83.01" lengthAdjust="spacingAndGlyphs">Fack/a-kassa</text>
<text x="369.64" y="459.90" font-size="16.60" fill="#000000" textLength="45.33" lengthAdjust="spacingAndGlyphs">290 kr</text>
<text x="484.64" y="459.90" font-size="16.60" fill="#000000" textLength="45.33" lengthAdjust="spacingAndGlyphs">290 kr</text>
<text x="599.64" y="459.90" font-size="16.60" fill="#000000" textLength="45.33" lengthAdjust="spacingAndGlyphs">290 kr</text>
<text x="714.64" y="459.90" font-size="16.60" fill="#000000" textLength="45.33" lengthAdjust="spacingAndGlyphs">290 kr</text>
<text x="829.64" y="459.90" font-size="16.60" fill="#000000" textLength="45.33" lengthAdjust="spacingAndGlyphs">290 kr</text>
<text x="944.64" y="459.90" font-size="16.60" fill="#000000" textLength="45.33" lengthAdjust="spacingAndGlyphs">290 kr</text>
<text x="1059.64" y="459.90" font-size="16.60" fill="#000000" textLength="45.33" lengthAdjust="spacingAndGlyphs">290 kr</text>
<text x="205.27" y="483.90" font-size="15.11" fill="#000000" textLength="95.08" lengthAdjust="spacingAndGlyphs">Vatten/avlopp</text>
<text x="387.52" y="483.90" font-size="16.60" fill="#000000" textLength="27.45" lengthAdjust="spacingAndGlyphs">0 kr</text>
<text x="502.52" y="483.90" font-size="16.60" fill="#000000" textLength="27.45" lengthAdjust="spacingAndGlyphs">0 kr</text>
<text x="586.50" y="483.90" font-size="16.60" fill="#000000" textLength="58.46" lengthAdjust="spacingAndGlyphs">1,413 kr</text>
<text x="732.52" y="483.90" font-size="16.60" fill="#000000" textLength="27.45" lengthAdjust="spacingAndGlyphs">0 kr</text>
<text x="847.52" y="483.90" font-size="16.60" fill="#000000" textLength="27.45" lengthAdjust="spacingAndGlyphs">0 kr</text>
<text x="931.50" y="483.90" font-size="16.60" fill="#000000" textLength="58.46" lengthAdjust="spacingAndGlyphs">1,761 kr</text>
<text x="1077.52" y="483.90" font-size="16.60" fill="#000000" textLength="27.45" lengthAdjust="spacingAndGlyphs">0 kr</text>
<text x="261.10" y="507.90" font-size="15.11" fill="#000000" textLength="38.84" lengthAdjust="spacingAndGlyphs">Sopor</text>
<text x="387.52" y="507.90" font-size="16.60" fill="#000000" textLength="27.45" lengthAdjust="spacingAndGlyphs">0 kr</text>
<text x="502.52" y="507.90" font-size="16.60" fill="#000000" textLength="27.45" lengthAdjust="spacingAndGlyphs">0 kr</text>
<text x="586.50" y="507.90" font-size="16.60" fill="#000000" textLength="58.46" lengthAdjust="spacingAndGlyphs">1,867 kr</text>
<text x="732.52" y="507.90" font-size="16.60" fill="#000000" textLength="27.45" lengthAdjust="spacingAndGlyphs">0 kr</text>
<text x="847.52" y="507.90" font-size="16.60" fill="#000000" textLength="27.45" lengthAdjust="spacingAndGlyphs">0 kr</text>
<text x="962.52" y="507.90" font-size="16.60" fill="#000000" textLength="27.45" lengthAdjust="spacingAndGlyphs">0 kr</text>
<text x="1077.52" y="507.90" font-size="16.60" fill="#000000" textLength="27.45" lengthAdjust="spacingAndGlyphs">0 kr</text>
<text x="266.61" y="531.90" font-size="15.11" fill="#000000" textLength="33.20" lengthAdjust="spacingAndGlyphs">Elnät</text>
<text x="356.50" y="531.90" font-size="16.60" fill="#000000" textLength="58.46" lengthAdjust="spacingAndGlyphs">1,507 kr</text>
<text x="471.50" y="531.90" font-size="16.60" fill="#000000" textLength="58.46" lengthAdjust="spacingAndGlyphs">1,493 kr</text>
<text x="586.50" y="531.90" font-size="16.60" fill="#000000" textLength="58.46" lengthAdjust="spacingAndGlyphs">1,521 kr</text>
<text x="701.50" y="531.90" font-size="16.60" fill="#000000" textLength="58.46" lengthAdjust="spacingAndGlyphs">1,793 kr</text>
<text x="830.04" y="531.90" font-size="16.60" fill="#000000" textLength="44.93" lengthAdjust="spacingAndGlyphs">991 kr</text>
<text x="931.50" y="531.90" font-size="16.60" fill="#000000" textLength="58.46" lengthAdjust="spacingAndGlyphs">1,124 kr</text>
<text x="1077.52" y="531.90" font-size="16.60" fill="#000000" textLength="27.45" lengthAdjust="spacingAndGlyphs">0 kr</text>
<text x="289.35" y="555.90" font-size="15.11" fill="#000000" textLength="11.19" lengthAdjust="spacingAndGlyphs">El</text>
<text x="356.13" y="555.90" font-size="16.60" fill="#000000" textLength="58.84" lengthAdjust="spacingAndGlyphs">4,891 kr</text>
<text x="471.41" y="555.90" font-size="16.60" fill="#000000" textLength="58.56" lengthAdjust="spacingAndGlyphs">3,360 kr</text>
<text x="586.18" y="555.90" font-size="16.60" fill="#000000" textLength="58.79" lengthAdjust="spacingAndGlyphs">2,326 kr</text>
<text x="701.50" y="555.90" font-size="16.60" fill="#000000" textLength="58.46" lengthAdjust="spacingAndGlyphs">1,481 kr</text>
<text x="829.68" y="555.90" font-size="16.60" fill="#000000" textLength="45.29" lengthAdjust="spacingAndGlyphs">765 kr</text>
<text x="944.82" y="555.90" font-size="16.60" fill="#000000" textLength="45.15" lengthAdjust="spacingAndGlyphs">551 kr</text>
<text x="236.44" y="579.90" font-size="15.11" fill="#000000" textLength="64.22" lengthAdjust="spacingAndGlyphs">Bredband</text>
<text x="369.87" y="579.90" font-size="16.60" fill="#000000" textLength="45.10" lengthAdjust="spacingAndGlyphs">399 kr</text>
<text x="484.87" y="579.90" font-size="16.60" fill="#000000" textLength="45.10" lengthAdjust="spacingAndGlyphs">399 kr</text>
<text x="599.87" y="579.90" font-size="16.60" fill="#000000" textLength="45.10" lengthAdjust="spacingAndGlyphs">399 kr</text>
<text x="714.87" y="579.90" font-size="16.60" fill="#000000" textLength="45.10" lengthAdjust="spacingAndGlyphs">399 kr</text>
<text x="829.87" y="579.90" font-size="16.60" fill="#000000" textLength="45.10" lengthAdjust="spacingAndGlyphs">399 kr</text>
<text x="944.87" y="579.90" font-size="16.60" fill="#000000" textLength="45.10" lengthAdjust="spacingAndGlyphs">399 kr</text>
<text x="1059.87" y="579.90" font-size="16.60" fill="#000000" textLength="45.10" lengthAdjust="spacingAndGlyphs">399 kr</text>
<text x="200.73" y="603.90" font-size="15.11" fill="#000000" textLength="99.23" lengthAdjust="spacingAndGlyphs">Mobiltelefoner</text>
<text x="369.97" y="603.90" font-size="16.60" fill="#000000" textLength="45.00" lengthAdjust="spacingAndGlyphs">190 kr</text>
<text x="484.97" y="603.90" font-size="16.60" fill="#000000" textLength="45.00" lengthAdjust="spacingAndGlyphs">190 kr</text>
<text x="599.97" y="603.90" font-size="16.60" fill="#000000" textLength="45.00" lengthAdjust="spacingAndGlyphs">190 kr</text>
<text x="714.97" y="603.90" font-size="16.60" fill="#000000" textLength="45.00" lengthAdjust="spacingAndGlyphs">190 kr</text>
<text x="829.97" y="603.90" font-size="16.60" fill="#000000" textLength="45.00" lengthAdjust="spacingAndGlyphs">190 kr</text>
<text x="944.97" y="603.90" font-size="16.60" fill="#000000" textLength="45.00" lengthAdjust="spacingAndGlyphs">190 kr</text>
<text x="1059.97" y="603.90" font-size="16.60" fill="#000000" textLength="45.00" lengthAdjust="spacingAndGlyphs">190 kr</text>
<text x="186.51" y="627.90" font-size="15.11" fill="#000000" textLength="113.44" lengthAdjust="spacingAndGlyphs">Prenumerationer</text>
<text x="369.64" y="627.90" font-size="16.60" fill="#000000" textLength="45.33" lengthAdjust="spacingAndGlyphs">280 kr</text>
<text x="484.64" y="627.90" font-size="16.60" fill="#000000" textLength="45.33" lengthAdjust="spacingAndGlyphs">280 kr</text>
<text x="599.64" y="627.90" font-size="16.60" fill="#000000" textLength="45.33" lengthAdjust="spacingAndGlyphs">280 kr</text>
<text x="714.64" y="627.90" font-size="16.60" fill="#000000" textLength="45.33" lengthAdjust="spacingAndGlyphs">280 kr</text>
<text x="847.52" y="627.90" font-size="16.60" fill="#000000" textLength="27.45" lengthAdjust="spacingAndGlyphs">0 kr</text>
<text x="962.52" y="627.90" font-size="16.60" fill="#000000" textLength="27.45" lengthAdjust="spacingAndGlyphs">0 kr</text>
<text x="1077.52" y="627.90" font-size="16.60" fill="#000000" textLength="27.45" lengthAdjust="spacingAndGlyphs">0 kr</text>
<text x="211.66" y="651.90" font-size="15.11" fill="#000000" textLength="89.01" lengthAdjust="spacingAndGlyphs">Billån/leasing</text>
<text x="356.36" y="651.90" font-size="16.60" fill="#000000" textLength="58.61" lengthAdjust="spacingAndGlyphs">5,202 kr</text>
<text x="471.36" y="651.90" font-size="16.60" fill="#000000" textLength="58.61" lengthAdjust="spacingAndGlyphs">5,202 kr</text>
<text x="586.36" y="651.90" font-size="16.60" fill="#000000" textLength="58.61" lengthAdjust="spacingAndGlyphs">5,151 kr</text>
<text x="701.36" y="651.90" font-size="16.60" fill="#000000" textLength="58.61" lengthAdjust="spacingAndGlyphs">5,302 kr</text>
<text x="816.36" y="651.90" font-size="16.60" fill="#000000" textLength="58.61" lengthAdjust="spacingAndGlyphs">5,272 kr</text>
<text x="962.52" y="651.90" font-size="16.60" fill="#000000" textLength="27.45" lengthAdjust="spacingAndGlyphs">0 kr</text>
<text x="1077.52" y="651.90" font-size="16.60" fill="#000000" textLength="27.45" lengthAdjust="spacingAndGlyphs">0 kr</text>
<text x="251.40" y="675.90" font-size="15.11" fill="#000000" textLength="48.95" lengthAdjust="spacingAndGlyphs">Bränsle</text>
<text x="387.52" y="675.90" font-size="16.60" fill="#000000" textLength="27.45" lengthAdjust="spacingAndGlyphs">0 kr</text>
<text x="502.52" y="675.90" font-size="16.60" fill="#000000" textLength="27.45" lengthAdjust="spacingAndGlyphs">0 kr</text>
<text x="617.52" y="675.90" font-size="16.60" fill="#000000" textLength="27.45" lengthAdjust="spacingAndGlyphs">0 kr</text>
<text x="732.52" y="675.90" font-size="16.60" fill="#000000" textLength="27.45" lengthAdjust="spacingAndGlyphs">0 kr</text>
<text x="847.52" y="675.90" font-size="16.60" fill="#000000" textLength="27.45" lengthAdjust="spacingAndGlyphs">0 kr</text>
<text x="962.52" y="675.90" font-size="16.60" fill="#000000" textLength="27.45" lengthAdjust="spacingAndGlyphs">0 kr</text>
<text x="1077.52" y="675.90" font-size="16.60" fill="#000000" textLength="27.45" lengthAdjust="spacingAndGlyphs">0 kr</text>
<text x="231.82" y="699.90" font-size="15.11" fill="#000000" textLength="68.84" lengthAdjust="spacingAndGlyphs">Besiktning</text>
<text x="387.52" y="699.90" font-size="16.60" fill="#000000" textLength="27.45" lengthAdjust="spacingAndGlyphs">0 kr</text>
<text x="502.52" y="699.90" font-size="16.60" fill="#000000" textLength="27.45" lengthAdjust="spacingAndGlyphs">0 kr</text>
<text x="617.52" y="699.90" font-size="16.60" fill="#000000" textLength="27.45" lengthAdjust="spacingAndGlyphs">0 kr</text>
<text x="732.52" y="699.90" font-size="16.60" fill="#000000" textLength="27.45" lengthAdjust="spacingAndGlyphs">0 kr</text>
<text x="847.52" y="699.90" font-size="16.60" fill="#000000" textLength="27.45" lengthAdjust="spacingAndGlyphs">0 kr</text>
<text x="962.52" y="699.90" font-size="16.60" fill="#000000" textLength="27.45" lengthAdjust="spacingAndGlyphs">0 kr</text>
<text x="1077.52" y="699.90" font-size="16.60" fill="#000000" textLength="27.45" lengthAdjust="spacingAndGlyphs">0 kr</text>
<text x="237.99" y="723.90" font-size="15.11" fill="#000000" textLength="62.36" lengthAdjust="spacingAndGlyphs">Bilservice</text>
<text x="387.52" y="723.90" font-size="16.60" fill="#000000" textLength="27.45" lengthAdjust="spacingAndGlyphs">0 kr</text>
<text x="502.52" y="723.90" font-size="16.60" fill="#000000" textLength="27.45" lengthAdjust="spacingAndGlyphs">0 kr</text>
<text x="617.52" y="723.90" font-size="16.60" fill="#000000" textLength="27.45" lengthAdjust="spacingAndGlyphs">0 kr</text>
<text x="732.52" y="723.90" font-size="16.60" fill="#000000" textLength="27.45" lengthAdjust="spacingAndGlyphs">0 kr</text>
<text x="847.52" y="723.90" font-size="16.60" fill="#000000" textLength="27.45" lengthAdjust="spacingAndGlyphs">0 kr</text>
<text x="962.52" y="723.90" font-size="16.60" fill="#000000" textLength="27.45" lengthAdjust="spacingAndGlyphs">0 kr</text>
<text x="1077.52" y="723.90" font-size="16.60" fill="#000000" textLength="27.45" lengthAdjust="spacingAndGlyphs">0 kr</text>
<text x="217.54" y="747.90" font-size="15.11" fill="#000000" textLength="83.13" lengthAdjust="spacingAndGlyphs">Bilförsäkring</text>
<text x="387.52" y="747.90" font-size="16.60" fill="#000000" textLength="27.45" lengthAdjust="spacingAndGlyphs">0 kr</text>
<text x="502.52" y="747.90" font-size="16.60" fill="#000000" textLength="27.45" lengthAdjust="spacingAndGlyphs">0 kr</text>
<text x="617.52" y="747.90" font-size="16.60" fill="#000000" textLength="27.45" lengthAdjust="spacingAndGlyphs">0 kr</text>
<text x="732.52" y="747.90" font-size="16.60" fill="#000000" textLength="27.45" lengthAdjust="spacingAndGlyphs">0 kr</text>
<text x="847.52" y="747.90" font-size="16.60" fill="#000000" textLength="27.45" lengthAdjust="spacingAndGlyphs">0 kr</text>
<text x="962.52" y="747.90" font-size="16.60" fill="#000000" textLength="27.45" lengthAdjust="spacingAndGlyphs">0 kr</text>
<text x="1077.52" y="747.90" font-size="16.60" fill="#000000" textLength="27.45" lengthAdjust="spacingAndGlyphs">0 kr</text>
<text x="251.33" y="771.90" font-size="15.11" fill="#000000" textLength="48.48" lengthAdjust="spacingAndGlyphs">Bilskatt</text>
<text x="387.52" y="771.90" font-size="16.60" fill="#000000" textLength="27.45" lengthAdjust="spacingAndGlyphs">0 kr</text>
<text x="484.59" y="771.90" font-size="16.60" fill="#000000" textLength="45.38" lengthAdjust="spacingAndGlyphs">422 kr</text>
<text x="617.52" y="771.90" font-size="16.60" fill="#000000" textLength="27.45" lengthAdjust="spacingAndGlyphs">0 kr</text>
<text x="732.52" y="771.90" font-size="16.60" fill="#000000" textLength="27.45" lengthAdjust="spacingAndGlyphs">0 kr</text>
<text x="847.52" y="771.90" font-size="16.60" fill="#000000" textLength="27.45" lengthAdjust="spacingAndGlyphs">0 kr</text>
<text x="962.52" y="771.90" font-size="16.60" fill="#000000" textLength="27.45" lengthAdjust="spacingAndGlyphs">0 kr</text>
<text x="1077.52" y="771.90" font-size="16.60" fill="#000000" textLength="27.45" lengthAdjust="spacingAndGlyphs">0 kr</text>
<text x="208.47" y="795.90" font-size="15.11" fill="#000000" textLength="91.21" lengthAdjust="spacingAndGlyphs">Kollektivtrafik</text>
<text x="370.04" y="795.90" font-size="16.60" fill="#000000" textLength="44.93" lengthAdjust="spacingAndGlyphs">979 kr</text>
<text x="485.04" y="795.90" font-size="16.60" fill="#000000" textLength="44.93" lengthAdjust="spacingAndGlyphs">979 kr</text>
<text x="600.04" y="795.90" font-size="16.60" fill="#000000" textLength="44.93" lengthAdjust="spacingAndGlyphs">979 kr</text>
<text x="715.04" y="795.90" font-size="16.60" fill="#000000" textLength="44.93" lengthAdjust="spacingAndGlyphs">979 kr</text>
<text x="816.50" y="795.90" font-size="16.60" fill="#000000" textLength="58.46" lengthAdjust="spacingAndGlyphs">1,000 kr</text>
<text x="962.52" y="795.90" font-size="16.60" fill="#000000" textLength="27.45" lengthAdjust="spacingAndGlyphs">0 kr</text>
<text x="1077.52" y="795.90" font-size="16.60" fill="#000000" textLength="27.45" lengthAdjust="spacingAndGlyphs">0 kr</text>
<text x="167.38" y="819.90" font-size="15.11" fill="#000000" textLength="133.35" lengthAdjust="spacingAndGlyphs">Mat/Hygien/Hushåll</text>
<text x="356.17" y="819.90" font-size="16.60" fill="#000000" textLength="58.80" lengthAdjust="spacingAndGlyphs">6,500 kr</text>
<text x="471.17" y="819.90" font-size="16.60" fill="#000000" textLength="58.80" lengthAdjust="spacingAndGlyphs">6,500 kr</text>
<text x="586.17" y="819.90" font-size="16.60" fill="#000000" textLength="58.80" lengthAdjust="spacingAndGlyphs">6,500 kr</text>
<text x="701.17" y="819.90" font-size="16.60" fill="#000000" textLength="58.80" lengthAdjust="spacingAndGlyphs">6,500 kr</text>
<text x="816.17" y="819.90" font-size="16.60" fill="#000000" textLength="58.80" lengthAdjust="spacingAndGlyphs">6,500 kr</text>
<text x="931.17" y="819.90" font-size="16.60" fill="#000000" textLength="58.80" lengthAdjust="spacingAndGlyphs">6,500 kr</text>
<text x="1046.17" y="819.90" font-size="16.60" fill="#000000" textLength="58.80" lengthAdjust="spacingAndGlyphs">6,500 kr</text>
<text x="251.13" y="843.90" font-size="15.11" fill="#000000" textLength="49.59" lengthAdjust="spacingAndGlyphs">Alkohol</text>
<text x="369.82" y="843.90" font-size="16.60" fill="#000000" textLength="45.15" lengthAdjust="spacingAndGlyphs">500 kr</text>
<text x="502.52" y="843.90" font-size="16.60" fill="#000000" textLength="27.45" lengthAdjust="spacingAndGlyphs">0 kr</text>
<text x="599.82" y="843.90" font-size="16.60" fill="#000000" textLength="45.15" lengthAdjust="spacingAndGlyphs">500 kr</text>
<text x="732.52" y="843.90" font-size="16.60" fill="#000000" textLength="27.45" lengthAdjust="spacingAndGlyphs">0 kr</text>
<text x="847.52" y="843.90" font-size="16.60" fill="#000000" textLength="27.45" lengthAdjust="spacingAndGlyphs">0 kr</text>
<text x="962.52" y="843.90" font-size="16.60" fill="#000000" textLength="27.45" lengthAdjust="spacingAndGlyphs">0 kr</text>
<text x="1077.52" y="843.90" font-size="16.60" fill="#000000" textLength="27.45" lengthAdjust="spacingAndGlyphs">0 kr</text>
<text x="185.01" y="867.90" font-size="15.11" fill="#000000" textLength="115.67" lengthAdjust="spacingAndGlyphs">Medicin/Sjukvård</text>
<text x="369.64" y="867.90" font-size="16.60" fill="#000000" textLength="45.33" lengthAdjust="spacingAndGlyphs">200 kr</text>
<text x="502.52" y="867.90" font-size="16.60" fill="#000000" textLength="27.45" lengthAdjust="spacingAndGlyphs">0 kr</text>
<text x="617.52" y="867.90" font-size="16.60" fill="#000000" textLength="27.45" lengthAdjust="spacingAndGlyphs">0 kr</text>
<text x="732.52" y="867.90" font-size="16.60" fill="#000000" textLength="27.45" lengthAdjust="spacingAndGlyphs">0 kr</text>
<text x="847.52" y="867.90" font-size="16.60" fill="#000000" textLength="27.45" lengthAdjust="spacingAndGlyphs">0 kr</text>
<text x="962.52" y="867.90" font-size="16.60" fill="#000000" textLength="27.45" lengthAdjust="spacingAndGlyphs">0 kr</text>
<text x="1077.52" y="867.90" font-size="16.60" fill="#000000" textLength="27.45" lengthAdjust="spacingAndGlyphs">0 kr</text>
<text x="243.45" y="891.90" font-size="15.11" fill="#000000" textLength="56.25" lengthAdjust="spacingAndGlyphs">Katterna</text>
<text x="369.97" y="891.90" font-size="16.60" fill="#000000" textLength="45.00" lengthAdjust="spacingAndGlyphs">120 kr</text>
<text x="502.52" y="891.90" font-size="16.60" fill="#000000" textLength="27.45" lengthAdjust="spacingAndGlyphs">0 kr</text>
<text x="617.52" y="891.90" font-size="16.60" fill="#000000" textLength="27.45" lengthAdjust="spacingAndGlyphs">0 kr</text>
<text x="732.52" y="891.90" font-size="16.60" fill="#000000" textLength="27.45" lengthAdjust="spacingAndGlyphs">0 kr</text>
<text x="847.52" y="891.90" font-size="16.60" fill="#000000" textLength="27.45" lengthAdjust="spacingAndGlyphs">0 kr</text>
<text x="962.52" y="891.90" font-size="16.60" fill="#000000" textLength="27.45" lengthAdjust="spacingAndGlyphs">0 kr</text>
<text x="1077.52" y="891.90" font-size="16.60" fill="#000000" textLength="27.45" lengthAdjust="spacingAndGlyphs">0 kr</text>
<text x="235.85" y="915.90" font-size="15.11" fill="#000000" textLength="64.10" lengthAdjust="spacingAndGlyphs">Presenter</text>
<text x="387.52" y="915.90" font-size="16.60" fill="#000000" textLength="27.45" lengthAdjust="spacingAndGlyphs">0 kr</text>
<text x="484.82" y="915.90" font-size="16.60" fill="#000000" textLength="45.15" lengthAdjust="spacingAndGlyphs">500 kr</text>
<text x="617.52" y="915.90" font-size="16.60" fill="#000000" textLength="27.45" lengthAdjust="spacingAndGlyphs">0 kr</text>
<text x="732.52" y="915.90" font-size="16.60" fill="#000000" textLength="27.45" lengthAdjust="spacingAndGlyphs">0 kr</text>
<text x="847.52" y="915.90" font-size="16.60" fill="#000000" textLength="27.45" lengthAdjust="spacingAndGlyphs">0 kr</text>
<text x="962.52" y="915.90" font-size="16.60" fill="#000000" textLength="27.45" lengthAdjust="spacingAndGlyphs">0 kr</text>
<text x="1077.52" y="915.90" font-size="16.60" fill="#000000" textLength="27.45" lengthAdjust="spacingAndGlyphs">0 kr</text>
<text x="212.92" y="939.90" font-size="15.11" fill="#000000" textLength="87.03" lengthAdjust="spacingAndGlyphs">Kläder/Prylar</text>
<text x="387.52" y="939.90" font-size="16.60" fill="#000000" textLength="27.45" lengthAdjust="spacingAndGlyphs">0 kr</text>
<text x="502.52" y="939.90" font-size="16.60" fill="#000000" textLength="27.45" lengthAdjust="spacingAndGlyphs">0 kr</text>
<text x="617.52" y="939.90" font-size="16.60" fill="#000000" textLength="27.45" lengthAdjust="spacingAndGlyphs">0 kr</text>
<text x="732.52" y="939.90" font-size="16.60" fill="#000000" textLength="27.45" lengthAdjust="spacingAndGlyphs">0 kr</text>
<text x="847.52" y="939.90" font-size="16.60" fill="#000000" textLength="27.45" lengthAdjust="spacingAndGlyphs">0 kr</text>
<text x="962.52" y="939.90" font-size="16.60" fill="#000000" textLength="27.45" lengthAdjust="spacingAndGlyphs">0 kr</text>
<text x="1077.52" y="939.90" font-size="16.60" fill="#000000" textLength="27.45" lengthAdjust="spacingAndGlyphs">0 kr</text>
<text x="193.37" y="963.90" font-size="15.11" fill="#000000" textLength="106.59" lengthAdjust="spacingAndGlyphs">Nöjen/semester</text>
<text x="387.52" y="963.90" font-size="16.60" fill="#000000" textLength="27.45" lengthAdjust="spacingAndGlyphs">0 kr</text>
<text x="502.52" y="963.90" font-size="16.60" fill="#000000" textLength="27.45" lengthAdjust="spacingAndGlyphs">0 kr</text>
<text x="617.52" y="963.90" font-size="16.60" fill="#000000" textLength="27.45" lengthAdjust="spacingAndGlyphs">0 kr</text>
<text x="732.52" y="963.90" font-size="16.60" fill="#000000" textLength="27.45" lengthAdjust="spacingAndGlyphs">0 kr</text>
<text x="847.52" y="963.90" font-size="16.60" fill="#000000" textLength="27.45" lengthAdjust="spacingAndGlyphs">0 kr</text>
<text x="931.41" y="963.90" font-size="16.60" fill="#000000" textLength="58.56" lengthAdjust="spacingAndGlyphs">3,000 kr</text>
<text x="1077.52" y="963.90" font-size="16.60" fill="#000000" textLength="27.45" lengthAdjust="spacingAndGlyphs">0 kr</text>
<text x="230.57" y="987.90" font-size="15.11" fill="#000000" textLength="69.38" lengthAdjust="spacingAndGlyphs">Barnprylar</text>
<text x="387.52" y="987.90" font-size="16.60" fill="#000000" textLength="27.45" lengthAdjust="spacingAndGlyphs">0 kr</text>
<text x="471.17" y="987.90" font-size="16.60" fill="#000000" textLength="58.80" lengthAdjust="spacingAndGlyphs">6,800 kr</text>
<text x="586.50" y="987.90" font-size="16.60" fill="#000000" textLength="58.46" lengthAdjust="spacingAndGlyphs">1,000 kr</text>
<text x="732.52" y="987.90" font-size="16.60" fill="#000000" textLength="27.45" lengthAdjust="spacingAndGlyphs">0 kr</text>
<text x="847.52" y="987.90" font-size="16.60" fill="#000000" textLength="27.45" lengthAdjust="spacingAndGlyphs">0 kr</text>
<text x="962.52" y="987.90" font-size="16.60" fill="#000000" textLength="27.45" lengthAdjust="spacingAndGlyphs">0 kr</text>
<text x="1077.52" y="987.90" font-size="16.60" fill="#000000" textLength="27.45" lengthAdjust="spacingAndGlyphs">0 kr</text>
<text x="237.86" y="1011.90" font-size="15.11" fill="#000000" textLength="62.48" lengthAdjust="spacingAndGlyphs">Sparande</text>
<text x="356.13" y="1011.90" font-size="16.60" fill="#000000" textLength="58.84" lengthAdjust="spacingAndGlyphs">4,900 kr</text>
<text x="471.13" y="1011.90" font-size="16.60" fill="#000000" textLength="58.84" lengthAdjust="spacingAndGlyphs">4,900 kr</text>
<text x="586.13" y="1011.90" font-size="16.60" fill="#000000" textLength="58.84" lengthAdjust="spacingAndGlyphs">4,900 kr</text>
<text x="701.13" y="1011.90" font-size="16.60" fill="#000000" textLength="58.84" lengthAdjust="spacingAndGlyphs">4,900 kr</text>
<text x="816.13" y="1011.90" font-size="16.60" fill="#000000" textLength="58.84" lengthAdjust="spacingAndGlyphs">4,900 kr</text>
<text x="931.13" y="1011.90" font-size="16.60" fill="#000000" textLength="58.84" lengthAdjust="spacingAndGlyphs">4,900 kr</text>
<text x="1046.13" y="1011.90" font-size="16.60" fill="#000000" textLength="58.84" lengthAdjust="spacingAndGlyphs">4,900 kr</text>
<text x="163.86" y="1035.90" font-size="15.11" fill="#000000" textLength="136.10" lengthAdjust="spacingAndGlyphs">Oförutsedda utgifter</text>
<text x="387.52" y="1035.90" font-size="16.60" fill="#000000" textLength="27.45" lengthAdjust="spacingAndGlyphs">0 kr</text>
<text x="502.52" y="1035.90" font-size="16.60" fill="#000000" textLength="27.45" lengthAdjust="spacingAndGlyphs">0 kr</text>
<text x="617.52" y="1035.90" font-size="16.60" fill="#000000" textLength="27.45" lengthAdjust="spacingAndGlyphs">0 kr</text>
<text x="732.52" y="1035.90" font-size="16.60" fill="#000000" textLength="27.45" lengthAdjust="spacingAndGlyphs">0 kr</text>
<text x="847.52" y="1035.90" font-size="16.60" fill="#000000" textLength="27.45" lengthAdjust="spacingAndGlyphs">0 kr</text>
<text x="962.52" y="1035.90" font-size="16.60" fill="#000000" textLength="27.45" lengthAdjust="spacingAndGlyphs">0 kr</text>
<text x="1077.52" y="1035.90" font-size="16.60" fill="#000000" textLength="27.45" lengthAdjust="spacingAndGlyphs">0 kr</text>
<text x="194.83" y="1058.90" font-size="15.11" font-weight="bold" fill="#000000" textLength="105.08" lengthAdjust="spacingAndGlyphs">Summa utgifter</text>
<text x="345.31" y="1058.90" font-size="15.11" fill="#000000" textLength="69.63" lengthAdjust="spacingAndGlyphs">179,687 kr</text>
<text x="468.39" y="1058.90" font-size="15.11" fill="#000000" textLength="61.55" lengthAdjust="spacingAndGlyphs">55,216 kr</text>
<text x="583.39" y="1058.90" font-size="15.11" fill="#000000" textLength="61.55" lengthAdjust="spacingAndGlyphs">56,230 kr</text>
<text x="698.18" y="1058.90" font-size="15.11" fill="#000000" textLength="61.76" lengthAdjust="spacingAndGlyphs">42,810 kr</text>
<text x="813.18" y="1058.90" font-size="15.11" fill="#000000" textLength="61.76" lengthAdjust="spacingAndGlyphs">46,904 kr</text>
<text x="928.18" y="1058.90" font-size="15.11" fill="#000000" textLength="61.76" lengthAdjust="spacingAndGlyphs">45,724 kr</text>
<text x="1043.23" y="1058.90" font-size="15.11" fill="#000000" textLength="61.72" lengthAdjust="spacingAndGlyphs">23,680 kr</text>
<text x="199.62" y="1104.90" font-size="15.11" font-weight="bold" fill="#000000" textLength="100.63" lengthAdjust="spacingAndGlyphs">Beräknat saldo</text>
<text x="334.34" y="1104.90" font-size="15.11" fill="#000000" textLength="58.51" lengthAdjust="spacingAndGlyphs">-6,954 kr</text>
<text x="449.34" y="1104.90" font-size="15.11" fill="#000000" textLength="58.51" lengthAdjust="spacingAndGlyphs">-3,550 kr</text>
<text x="566.79" y="1104.90" font-size="15.11" fill="#000000" textLength="53.51" lengthAdjust="spacingAndGlyphs">6,194 kr</text>
<text x="677.65" y="1104.90" font-size="15.11" fill="#000000" textLength="61.42" lengthAdjust="spacingAndGlyphs">17,361 kr</text>
<text x="796.99" y="1104.90" font-size="15.11" fill="#000000" textLength="53.30" lengthAdjust="spacingAndGlyphs">3,611 kr</text>
<text x="911.80" y="1104.90" font-size="15.11" fill="#000000" textLength="53.51" lengthAdjust="spacingAndGlyphs">2,526 kr</text>
<text x="1022.69" y="1104.90" font-size="15.11" fill="#000000" textLength="61.72" lengthAdjust="spacingAndGlyphs">24,570 kr</text>
<text x="85.34" y="1127.90" font-size="15.11" fill="#000000" textLength="78.45" lengthAdjust="spacingAndGlyphs">Kommentar</text>
<text x="312.38" y="1127.90" font-size="15.11" fill="#000000" textLength="108.79" lengthAdjust="spacingAndGlyphs" clip-path="url(#c1)">Värmepump, pla</text>
<text x="427.32" y="1127.90" font-size="15.11" fill="#000000" textLength="109.03" lengthAdjust="spacingAndGlyphs" clip-path="url(#c2)">Barnstol, hornba</text>
<text x="542.32" y="1127.90" font-size="15.11" fill="#000000" textLength="113.21" lengthAdjust="spacingAndGlyphs" clip-path="url(#c3)">Elstöd, matgrupp</text>
<text x="657.15" y="1127.90" font-size="15.11" fill="#000000" textLength="111.09" lengthAdjust="spacingAndGlyphs" clip-path="url(#c4)">Skatteåterbäring</text>
<text x="772.26" y="1127.90" font-size="15.11" fill="#000000" textLength="108.34" lengthAdjust="spacingAndGlyphs" clip-path="url(#c5)">Trädgårds grejer</text>
<text x="887.16" y="1127.90" font-size="15.11" fill="#000000" textLength="192.97" lengthAdjust="spacingAndGlyphs" clip-path="url(#c6)">Sonoff relä, måla, skruvar, po</text></svg>
</body></html>
